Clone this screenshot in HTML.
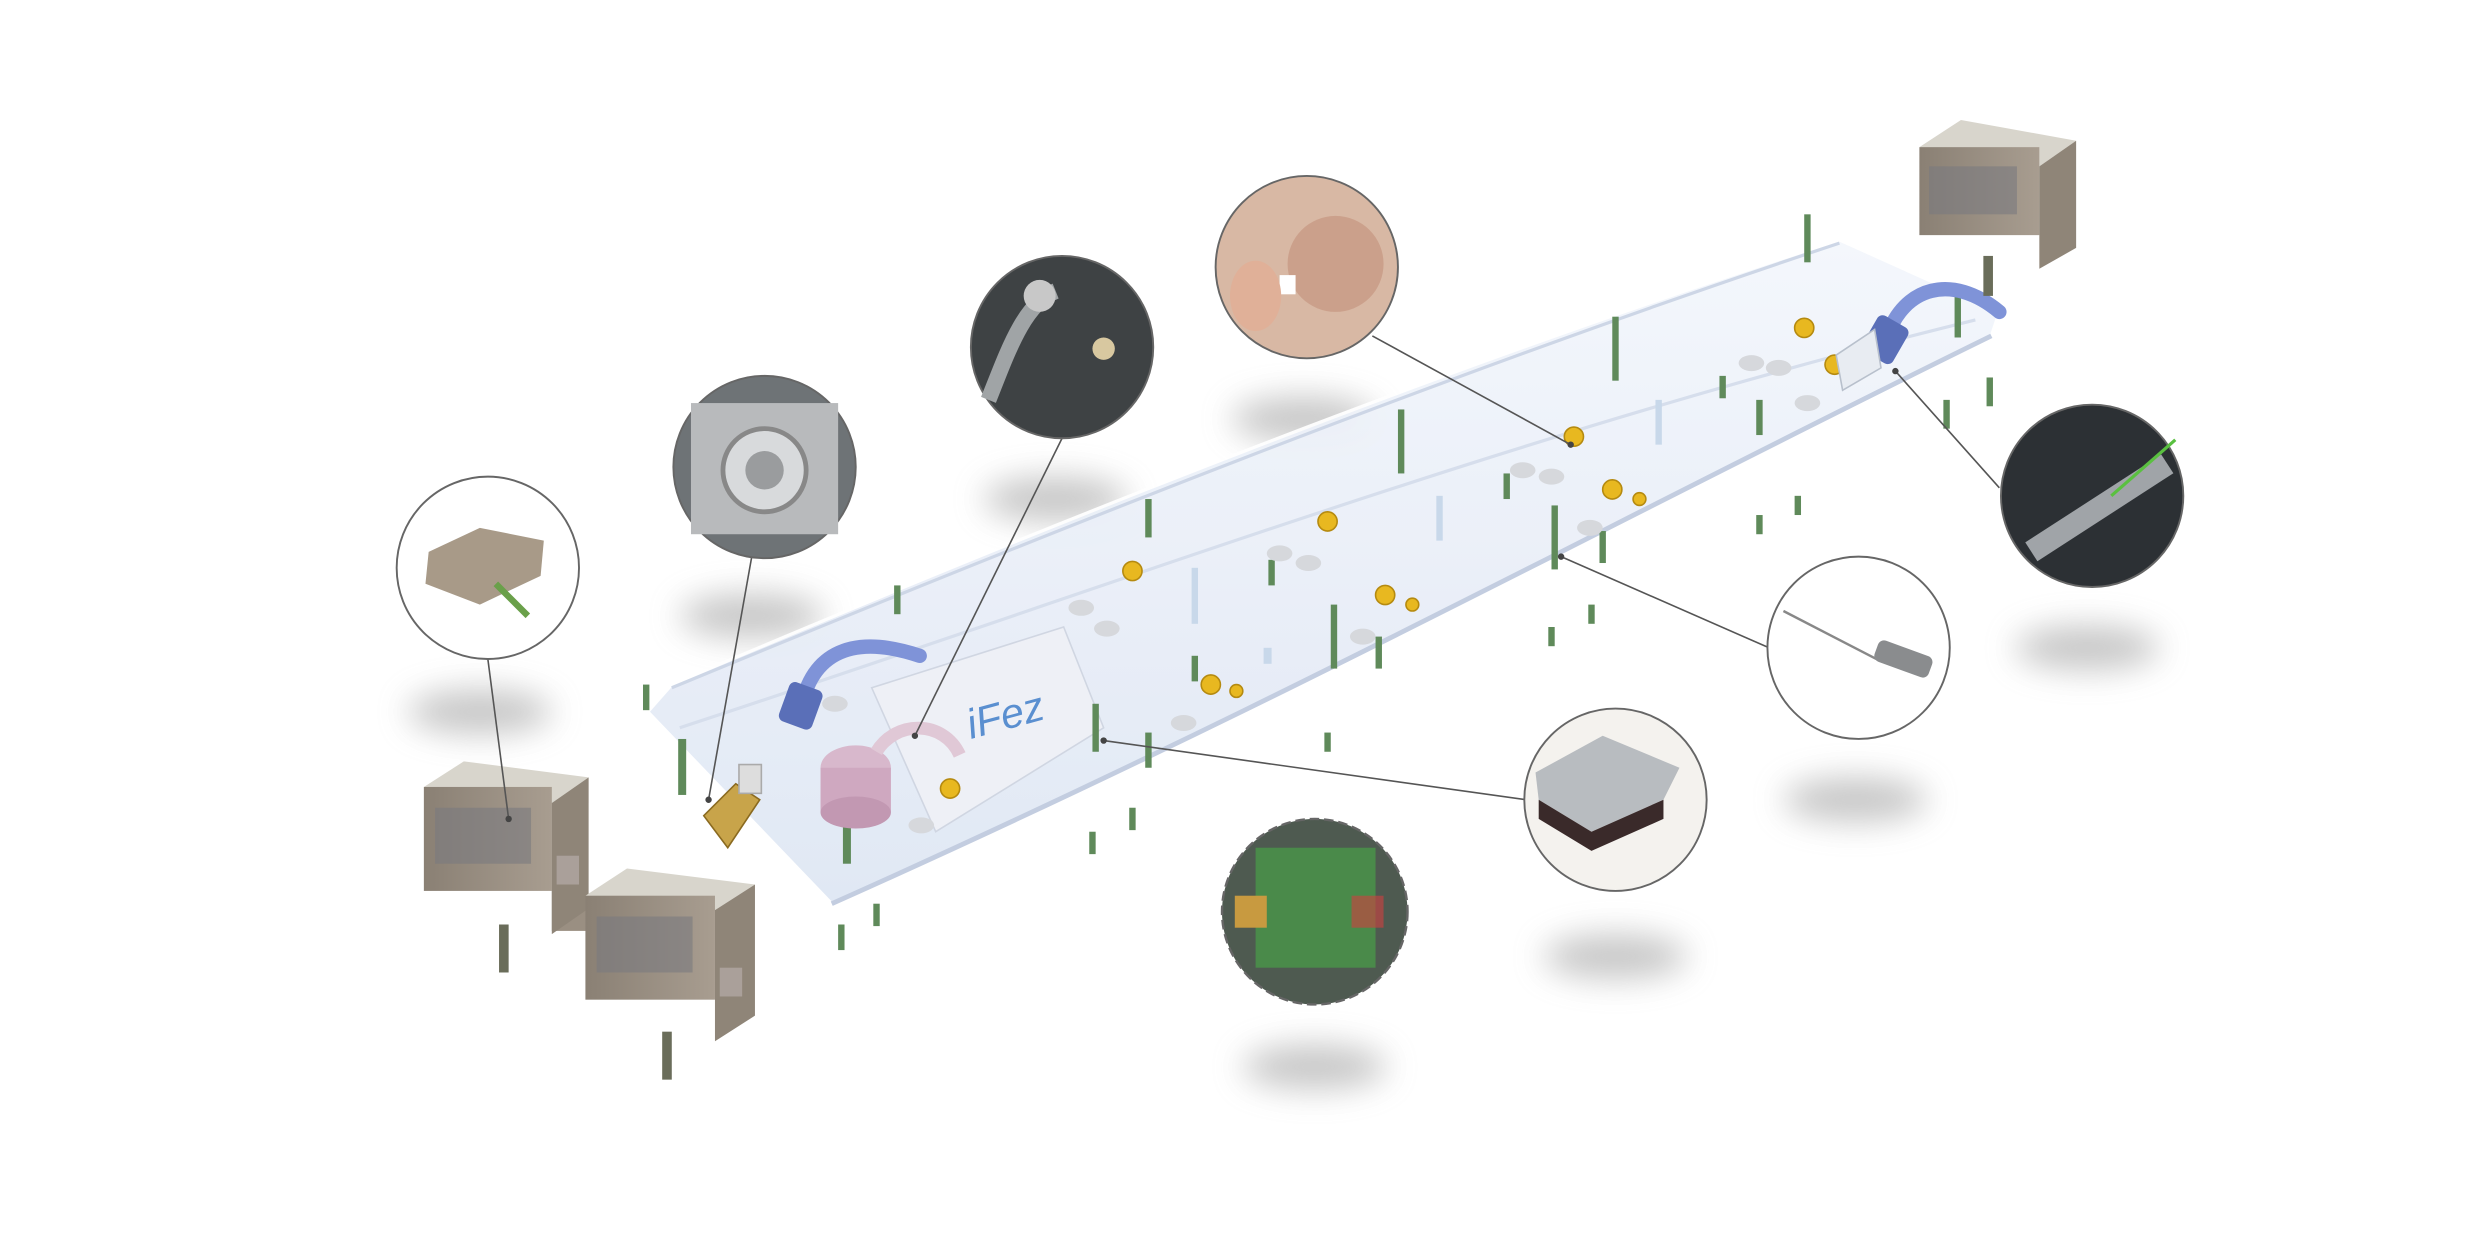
<!DOCTYPE html>
<html><head><meta charset="utf-8"><style>
html,body{margin:0;padding:0;background:#fff;}
svg{display:block;width:2476px;height:1238px;}
</style></head><body>
<svg viewBox="0 0 1548 774" xmlns="http://www.w3.org/2000/svg">
<defs>
<filter id="bl" x="-50%" y="-50%" width="200%" height="200%"><feGaussianBlur stdDeviation="10"/></filter>
<filter id="bl2" x="-50%" y="-50%" width="200%" height="200%"><feGaussianBlur stdDeviation="3"/></filter>
<linearGradient id="tr" x1="0" y1="0" x2="0" y2="1"><stop offset="0" stop-color="#f4f7fc"/><stop offset="1" stop-color="#dfe7f4"/></linearGradient>
<linearGradient id="box" x1="0" y1="0" x2="1" y2="0"><stop offset="0" stop-color="#8a8074"/><stop offset="1" stop-color="#a89d90"/></linearGradient>
</defs>
<rect width="1548" height="774" fill="#fff"/>
<!-- shadows -->
<g fill="#9a9a9a" opacity="0.55" filter="url(#bl)">
<ellipse cx="300" cy="445" rx="45" ry="14"/>
<ellipse cx="470" cy="385" rx="45" ry="14"/>
<ellipse cx="660" cy="312" rx="45" ry="14"/>
<ellipse cx="815" cy="262" rx="45" ry="14"/>
<ellipse cx="1305" cy="405" rx="45" ry="14"/>
<ellipse cx="1160" cy="500" rx="45" ry="14"/>
<ellipse cx="1010" cy="598" rx="45" ry="14"/>
<ellipse cx="822" cy="667" rx="45" ry="14"/>
</g>
<!-- trough -->
<path d="M405,445 L420,428 C650,330 900,230 1150,150 L1250,195 L1245,210 C1000,330 800,440 520,565 Z" fill="url(#tr)" stroke="#ffffff" stroke-width="2" opacity="0.95"/>
<path d="M420,430 C650,335 900,235 1150,152" fill="none" stroke="#cdd6e6" stroke-width="2"/>
<path d="M425,455 C700,365 950,270 1235,200" fill="none" stroke="#d6deec" stroke-width="2"/>
<path d="M520,565 C800,440 1000,330 1245,210" fill="none" stroke="#c3cde0" stroke-width="3"/>
<!-- iFez plate -->
<path d="M545,430 L665,392 L690,455 L585,520 Z" fill="#eef0f6" stroke="#d0d6e2"/>
<text x="607" y="462" font-family="Liberation Sans, sans-serif" font-size="26" font-style="italic" fill="#5a8fd0" transform="rotate(-15 607 462)">iFez</text>
<!-- pegs -->
<g fill="#5f8a5a">
<rect x="402" y="428" width="4" height="16"/><rect x="424" y="462" width="5" height="35"/><rect x="527" y="505" width="5" height="35"/><rect x="546" y="565" width="4" height="14"/><rect x="524" y="578" width="4" height="16"/>
<rect x="559" y="366" width="4" height="18"/><rect x="716" y="312" width="4" height="24"/><rect x="716" y="458" width="4" height="22"/><rect x="683" y="440" width="4" height="30"/><rect x="706" y="505" width="4" height="14"/><rect x="681" y="520" width="4" height="14"/>
<rect x="832" y="378" width="4" height="40"/><rect x="874" y="256" width="4" height="40"/><rect x="860" y="398" width="4" height="20"/><rect x="828" y="458" width="4" height="12"/>
<rect x="970" y="316" width="4" height="40"/><rect x="1008" y="198" width="4" height="40"/><rect x="1000" y="332" width="4" height="20"/><rect x="968" y="392" width="4" height="12"/><rect x="993" y="378" width="4" height="12"/>
<rect x="1128" y="134" width="4" height="30"/><rect x="1098" y="250" width="4" height="22"/><rect x="1075" y="235" width="4" height="14"/><rect x="1215" y="250" width="4" height="18"/><rect x="1242" y="236" width="4" height="18"/><rect x="1222" y="185" width="4" height="26"/><rect x="1098" y="322" width="4" height="12"/><rect x="1122" y="310" width="4" height="12"/>
<rect x="940" y="296" width="4" height="16"/><rect x="793" y="350" width="4" height="16"/><rect x="745" y="410" width="4" height="16"/>
</g>
<!-- light sensors (pale blue bars) -->
<g fill="#c8d8ea"><rect x="745" y="355" width="4" height="35"/><rect x="898" y="310" width="4" height="28"/><rect x="1035" y="250" width="4" height="28"/><rect x="790" y="405" width="5" height="10"/></g>
<!-- yellow/gray sensors -->
<g fill="#e8b820" stroke="#b58a10" stroke-width="1">
<circle cx="708" cy="357" r="6"/><circle cx="830" cy="326" r="6"/><circle cx="866" cy="372" r="6"/><circle cx="757" cy="428" r="6"/><circle cx="594" cy="493" r="6"/><circle cx="984" cy="273" r="6"/><circle cx="1008" cy="306" r="6"/><circle cx="1128" cy="205" r="6"/><circle cx="1147" cy="228" r="6"/><circle cx="883" cy="378" r="4"/><circle cx="773" cy="432" r="4"/><circle cx="1025" cy="312" r="4"/>
</g>
<g fill="#d6d8dc">
<ellipse cx="676" cy="380" rx="8" ry="5"/><ellipse cx="692" cy="393" rx="8" ry="5"/><ellipse cx="800" cy="346" rx="8" ry="5"/><ellipse cx="818" cy="352" rx="8" ry="5"/><ellipse cx="852" cy="398" rx="8" ry="5"/><ellipse cx="740" cy="452" rx="8" ry="5"/><ellipse cx="952" cy="294" rx="8" ry="5"/><ellipse cx="970" cy="298" rx="8" ry="5"/><ellipse cx="994" cy="330" rx="8" ry="5"/><ellipse cx="1095" cy="227" rx="8" ry="5"/><ellipse cx="1112" cy="230" rx="8" ry="5"/><ellipse cx="1130" cy="252" rx="8" ry="5"/><ellipse cx="576" cy="516" rx="8" ry="5"/><ellipse cx="522" cy="440" rx="8" ry="5"/>
</g>
<!-- hoses -->
<path d="M500,448 C505,410 530,395 575,410" fill="none" stroke="#7f93d8" stroke-width="9" stroke-linecap="round"/>
<rect x="490" y="428" width="22" height="26" rx="4" fill="#5a6fb8" transform="rotate(20 500 440)"/>
<path d="M1180,210 C1190,180 1220,170 1250,195" fill="none" stroke="#7f93d8" stroke-width="9" stroke-linecap="round"/>
<rect x="1168" y="200" width="22" height="26" rx="4" fill="#5a6fb8" transform="rotate(30 1180 212)"/>
<path d="M1148,222 L1172,206 L1176,230 L1152,244 Z" fill="#e8ecf2" stroke="#b8c0cc"/>
<!-- pink mount -->
<ellipse cx="535" cy="480" rx="22" ry="14" fill="#d8b8cc"/><rect x="513" y="480" width="44" height="28" fill="#cfa8c0"/><ellipse cx="535" cy="508" rx="22" ry="10" fill="#c298b2"/>
<path d="M548,470 C560,450 590,450 600,472" fill="none" stroke="#e0c8d6" stroke-width="8"/>
<!-- brass valve -->
<path d="M440,510 L460,490 L475,500 L455,530 Z" fill="#c8a44a" stroke="#8a6a20"/>
<rect x="462" y="478" width="14" height="18" fill="#ddd" stroke="#aaa"/>
<!-- boxes -->
<g>
<path d="M265,492 L290,476 L368,486 L345,502 Z" fill="#d8d5cc"/>
<rect x="265" y="492" width="80" height="65" fill="url(#box)"/><rect x="345" y="502" width="22" height="80" fill="#9a8f82"/>
<path d="M345,502 L368,486 L368,568 L345,584 Z" fill="#8f8578"/>
<rect x="272" y="505" width="60" height="35" fill="#7a7a7e" opacity="0.6"/>
<rect x="348" y="535" width="14" height="18" fill="#aaa09a"/><rect x="312" y="578" width="6" height="30" fill="#6a6d5a"/>
</g>
<g>
<path d="M366,560 L392,543 L472,553 L447,569 Z" fill="#d8d5cc"/>
<rect x="366" y="560" width="81" height="65" fill="url(#box)"/>
<path d="M447,569 L472,553 L472,635 L447,651 Z" fill="#8f8578"/>
<rect x="373" y="573" width="60" height="35" fill="#7a7a7e" opacity="0.6"/>
<rect x="450" y="605" width="14" height="18" fill="#aaa09a"/><rect x="414" y="645" width="6" height="30" fill="#6a6d5a"/>
</g>
<g>
<path d="M1200,92 L1226,75 L1298,88 L1275,104 Z" fill="#d8d5cc"/>
<rect x="1200" y="92" width="75" height="55" fill="url(#box)"/>
<path d="M1275,104 L1298,88 L1298,155 L1275,168 Z" fill="#8f8578"/>
<rect x="1206" y="104" width="55" height="30" fill="#7a7a7e" opacity="0.6"/>
<rect x="1240" y="160" width="6" height="25" fill="#6a6d5a"/>
</g>
<!-- leader lines -->
<g stroke="#555" stroke-width="1" fill="none">
<line x1="305" y1="412" x2="318" y2="512"/><line x1="470" y1="348" x2="443" y2="500"/><line x1="664" y1="274" x2="572" y2="460"/>
<line x1="858" y1="210" x2="982" y2="278"/><line x1="1250" y1="305" x2="1185" y2="232"/><line x1="1106" y1="405" x2="976" y2="348"/>
<line x1="954" y1="500" x2="690" y2="463"/>
</g>
<g fill="#444"><circle cx="318" cy="512" r="2"/><circle cx="443" cy="500" r="2"/><circle cx="572" cy="460" r="2"/><circle cx="982" cy="278" r="2"/><circle cx="1185" cy="232" r="2"/><circle cx="976" cy="348" r="2"/><circle cx="690" cy="463" r="2"/></g>
<!-- callout circles -->
<g stroke="#666" stroke-width="1.2">
<circle cx="305" cy="355" r="57" fill="#fff"/>
<circle cx="478" cy="292" r="57" fill="#6e7376"/>
<circle cx="664" cy="217" r="57" fill="#3e4244"/>
<circle cx="817" cy="167" r="57" fill="#d8b8a4"/>
<circle cx="1308" cy="310" r="57" fill="#2c3034"/>
<circle cx="1162" cy="405" r="57" fill="#fff"/>
<circle cx="1010" cy="500" r="57" fill="#f4f2ee"/>
<circle cx="822" cy="570" r="58" fill="#4e5a50" stroke-dasharray="6 3" stroke-width="1.5"/>
</g>
<!-- circle contents -->
<path d="M268,345 L300,330 L340,338 L338,360 L300,378 L266,365 Z" fill="#a89a88"/><line x1="310" y1="365" x2="330" y2="385" stroke="#6aa04a" stroke-width="4"/>
<rect x="432" y="252" width="92" height="82" fill="#b8babc"/><circle cx="478" cy="294" r="26" fill="#d8dadc" stroke="#888" stroke-width="3"/><circle cx="478" cy="294" r="12" fill="#9a9c9e"/>
<path d="M618,250 C630,220 640,190 660,182" fill="none" stroke="#a0a4a6" stroke-width="10"/><circle cx="650" cy="185" r="10" fill="#c8c8c8"/><circle cx="690" cy="218" r="7" fill="#d8c8a0"/>
<circle cx="835" cy="165" r="30" fill="#c89a84" opacity="0.8"/><rect x="800" y="172" width="10" height="12" fill="#fff"/><ellipse cx="785" cy="185" rx="16" ry="22" fill="#e0b098"/>
<line x1="1270" y1="345" x2="1355" y2="290" stroke="#a0a4a8" stroke-width="14"/><line x1="1320" y1="310" x2="1360" y2="275" stroke="#5ac040" stroke-width="2"/>
<line x1="1115" y1="382" x2="1175" y2="413" stroke="#888" stroke-width="1.5"/><rect x="1172" y="405" width="36" height="14" rx="4" fill="#8a8c8e" transform="rotate(20 1190 412)"/>
<path d="M960,483 L1002,460 L1050,480 L1040,500 L995,520 L962,500 Z" fill="#b8bcc0"/><path d="M962,500 L995,520 L1040,500 L1040,512 L995,532 L962,512 Z" fill="#3a2a2a"/>
<rect x="785" y="530" width="75" height="75" fill="#4a8a4a"/><rect x="772" y="560" width="20" height="20" fill="#c89a40"/><rect x="845" y="560" width="20" height="20" fill="#d04040" opacity="0.6"/>
</svg>
</body></html>
